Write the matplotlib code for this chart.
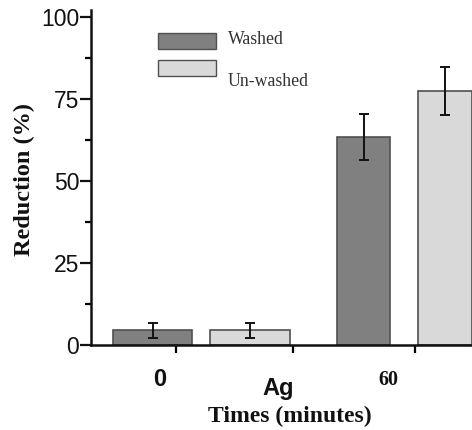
import matplotlib
matplotlib.use("Agg")
import matplotlib.pyplot as plt
from matplotlib.patches import Rectangle

# data
tick_labels = ["0", "Ag", "60"]
series = ["Washed", "Un-washed"]
washed = [4.5, 63.5]
washed_err = [2.3, 7.0]
unwashed = [4.5, 77.5]
unwashed_err = [2.3, 7.3]

# layout (x in units of 100 px from the y axis)
washed_x = [0.615, 2.725]
unwashed_x = [1.59, 3.54]
bar_w = [[0.79, 0.53], [0.80, 0.54]]
tick_x = [0.85, 2.02, 3.24]

c_dark = "#808080"
c_light = "#d9d9d9"
edge = "#505050"

fig = plt.figure(figsize=(4.72, 4.30), dpi=100)
ax = fig.add_axes([91 / 472, 85 / 430, 381 / 472, 334.6 / 430])

ax.bar(washed_x, washed, width=bar_w[0], color=c_dark, edgecolor=edge, linewidth=1.2, zorder=2)
ax.bar(unwashed_x, unwashed, width=bar_w[1], color=c_light, edgecolor=edge, linewidth=1.2, zorder=2)
ax.errorbar(washed_x, washed, yerr=washed_err, fmt="none", ecolor="#111111",
            elinewidth=1.4, capsize=3.5, capthick=1.4, zorder=3)
ax.errorbar(unwashed_x, unwashed, yerr=unwashed_err, fmt="none", ecolor="#111111",
            elinewidth=1.4, capsize=3.5, capthick=1.4, zorder=3)

ax.set_xlim(0, 3.81)
ax.set_ylim(0, 102)
ax.set_yticks([0, 25, 50, 75, 100])
ax.set_yticks([12.5, 37.5, 62.5, 87.5], minor=True)
ax.set_xticks(tick_x)
ax.set_xticklabels([])
for s in ["top", "right"]:
    ax.spines[s].set_visible(False)
for s in ["left", "bottom"]:
    ax.spines[s].set_linewidth(1.8)
    ax.spines[s].set_color("#111111")
ax.tick_params(axis="y", which="major", length=8, width=1.6, pad=0.5,
               labelsize=16.5, colors="#111111")
ax.tick_params(axis="y", which="minor", length=4.5, width=1.6)
ax.tick_params(axis="x", which="major", length=6, width=1.6)
for lab in ax.get_yticklabels():
    lab.set_family("Liberation Sans")

# category labels under the axis
lbl_y = [379, 389, 380]
lbl_x = [160, 278, 388]
lbl_font = [("Liberation Sans", 17), ("Liberation Sans", 17), ("Liberation Serif", 14.5)]
for t, x, y, (fam, sz) in zip(tick_labels, lbl_x, lbl_y, lbl_font):
    fig.text(x / 472, 1 - y / 430, t, ha="center", va="center",
             family=fam, fontsize=sz, fontweight="bold", color="#111111")

fig.text(290 / 472, 1 - 416 / 430, "Times (minutes)", ha="center", va="center",
         family="Liberation Serif", fontsize=17, fontweight="bold", color="#111111")
fig.text(24 / 472, 1 - 179 / 430, "Reduction (%)", ha="center", va="center",
         rotation=90, family="Liberation Serif", fontsize=17.5, fontweight="bold",
         color="#111111")

# legend
for i, (name, col) in enumerate(zip(series, [c_dark, c_light])):
    top = [33, 60][i]
    fig.patches.append(Rectangle((158 / 472, 1 - (top + 16) / 430), 58 / 472, 16 / 430,
                                 transform=fig.transFigure, facecolor=col,
                                 edgecolor=edge, linewidth=1))
    ty = [40, 81][i]
    fig.text(228 / 472, 1 - ty / 430, name, ha="left", va="center",
             family="Liberation Serif", fontsize=12.8, color="#333333")

fig.savefig("out.png", dpi=100)
